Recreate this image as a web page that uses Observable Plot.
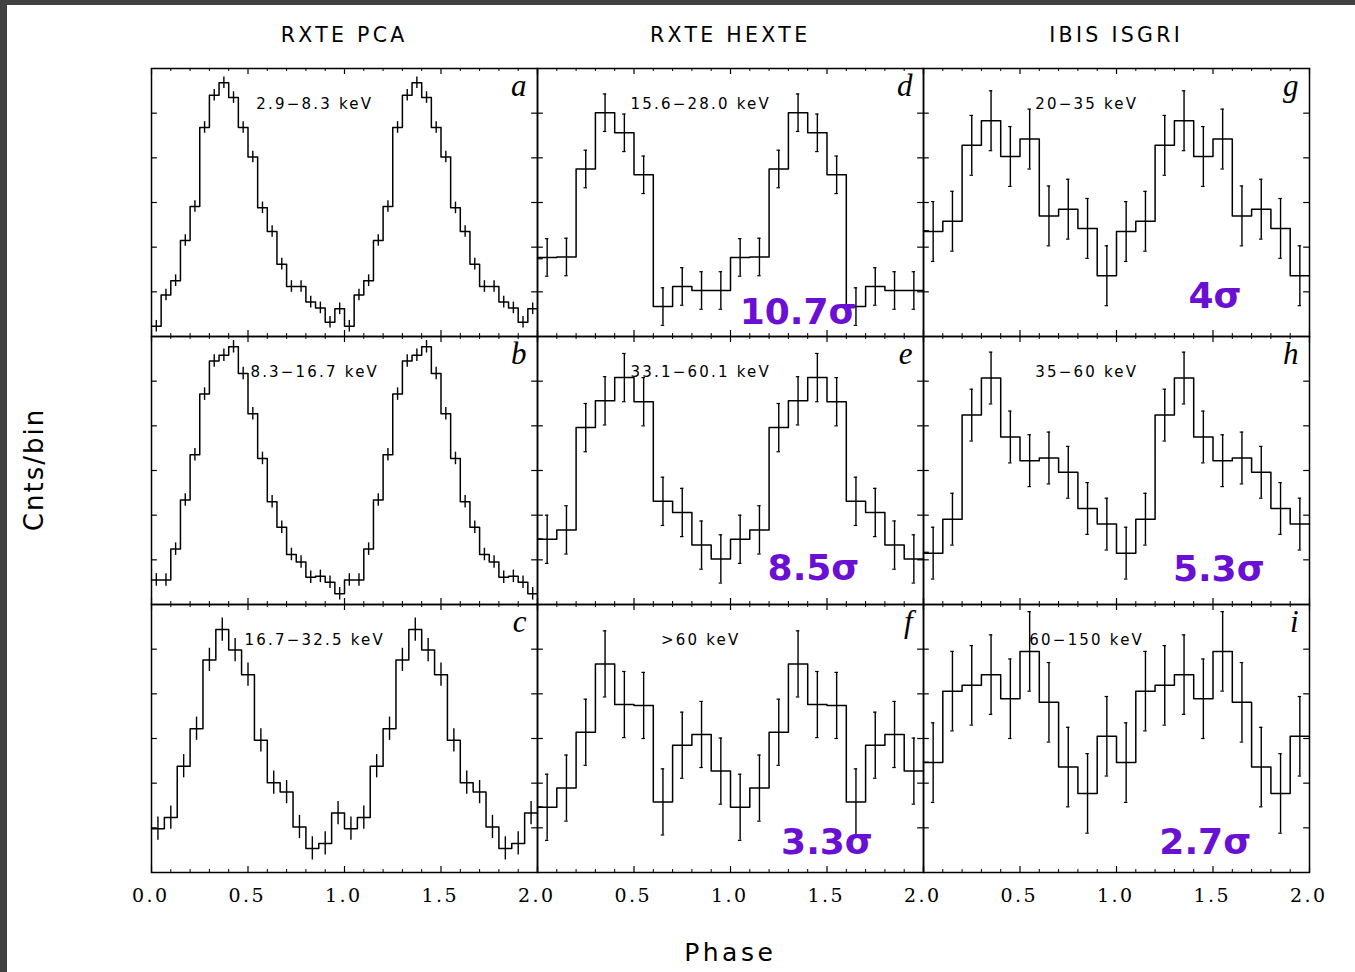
<!DOCTYPE html>
<html>
<head>
<meta charset="utf-8">
<script src="https://cdn.jsdelivr.net/npm/d3@7"></script>
<script src="https://cdn.jsdelivr.net/npm/@observablehq/plot@0.6"></script>
<style>
  html, body { margin: 0; padding: 0; background: #414141; }
  #frame { padding: 5px 0 0 7px; width: 1348px; height: 967px; }
  #chart svg { display: block; background: #fff; }
</style>
</head>
<body>
<div id="frame"><div id="chart"></div></div>
<script>
// Instruments (columns) and panel rows
const instruments = ["RXTE PCA", "RXTE HEXTE", "IBIS ISGRI"];
const rows = ["low", "mid", "high"];

// Panels a–i, column by column
const panelIds = ["a", "b", "c", "d", "e", "f", "g", "h", "i"];
const energyBands = [
  "2.9−8.3 keV", "8.3−16.7 keV", "16.7−32.5 keV",
  "15.6−28.0 keV", "33.1−60.1 keV", ">60 keV",
  "20−35 keV", "35−60 keV", "60−150 keV"
];
const significance = [null, null, null, "10.7σ", "8.5σ", "3.3σ", "4σ", "5.3σ", "2.7σ"];

// Pulse profiles over one cycle (counts per bin, arbitrary units)
const profileA = [0.23, 0.93, 1.25, 2.15, 2.91, 4.68, 5.40, 5.68, 5.35, 4.68,
                  4.02, 2.88, 2.35, 1.62, 1.12, 1.12, 0.77, 0.64, 0.32, 0.62];
const profileB = [0.55, 0.55, 1.24, 2.34, 3.35, 4.71, 5.45, 5.58, 5.77, 5.17,
                  4.27, 3.27, 2.30, 1.73, 1.12, 0.95, 0.61, 0.63, 0.50, 0.24];
const profileC = [0.98, 1.23, 2.38, 3.22, 4.76, 5.44, 4.98, 4.43, 2.96, 2.01,
                  1.80, 1.02, 0.54, 0.65, 1.33];
const profileD = [1.77, 1.78, 3.75, 5.01, 4.56, 3.62, 0.67, 1.12, 1.03, 1.03];
const profileE = [1.46, 1.67, 3.96, 4.56, 5.08, 4.54, 2.31, 2.06, 1.33, 1.02];
const profileF = [1.46, 1.89, 3.14, 4.67, 3.76, 3.74, 1.58, 2.85, 3.09, 2.27];
const profileG = [2.35, 2.58, 4.28, 4.83, 4.03, 4.42, 2.70, 2.85, 2.42, 1.36];
const profileH = [1.15, 1.91, 4.24, 5.07, 3.75, 3.22, 3.28, 2.96, 2.15, 1.80];
const profileI = [2.46, 4.06, 4.19, 4.43, 3.89, 4.95, 3.81, 2.36, 1.77, 3.05];

// 1-sigma error per bin for each panel
const binError = [0.13, 0.14, 0.26, 0.42, 0.54, 0.74, 0.67, 0.58, 0.89];

// Axis ticks
const phaseMajor = [0, 0.5, 1, 1.5, 2];
const phaseMinor = [0.1, 0.2, 0.3, 0.4, 0.6, 0.7, 0.8, 0.9, 1.1, 1.2, 1.3, 1.4, 1.6, 1.7, 1.8, 1.9];
const countTicks = [1, 2, 3, 4, 5];
const extraLeftTicks = [null, null, null, 1.74, 1.47, 1.47, 2.37, 1.17, 2.47];
const phaseLabelsFirst = ["0.0", "0.5", "1.0", "1.5", "2.0"];
const phaseLabelsRest = ["0.5", "1.0", "1.5", "2.0"];

const profiles = [profileA, profileB, profileC, profileD, profileE, profileF, profileG, profileH, profileI];

const panels = panelIds.map((id, i) => ({
  id,
  col: instruments[Math.floor(i / 3)],
  row: rows[i % 3],
  values: profiles[i],
  err: binError[i],
  band: energyBands[i],
  sig: significance[i],
  extra: extraLeftTicks[i]
}));

// Step outline and error bars, shown over two cycles
const steps = [], bars = [];
for (const p of panels) {
  const n = p.values.length, w = 1 / n;
  for (let cycle = 0; cycle < 2; cycle++) {
    p.values.forEach((v, k) => {
      const x0 = cycle + k * w, x1 = x0 + w;
      steps.push({col: p.col, row: p.row, x: x0, y: v});
      steps.push({col: p.col, row: p.row, x: x1, y: v});
      bars.push({col: p.col, row: p.row, x: x0 + w / 2, lo: v - p.err, hi: v + p.err,
                 capped: p.col !== instruments[0]});
    });
  }
}
const caps = bars.filter(d => d.capped).flatMap(d => [
  {col: d.col, row: d.row, x: d.x, y: d.lo},
  {col: d.col, row: d.row, x: d.x, y: d.hi}
]);

const tickLabels = instruments.flatMap((col, j) =>
  (j === 0 ? phaseLabelsFirst : phaseLabelsRest).map(label => ({col, row: rows[2], label, v: +label}))
);

// Placement of the significance annotations (phase, level of baseline)
const sigPlacement = {d: [1.35, 0.29], e: [1.43, 0.54], f: [1.50, 0.42],
                      g: [1.51, 0.63], h: [1.53, 0.52], i: [1.46, 0.42]};

const FW = 1160 / 3, FH = 804 / 3;
const ink = "#000";
const purple = "#6a0fd4";

const chart = Plot.plot({
  width: 1348,
  height: 967,
  marginLeft: 143,
  marginRight: 45,
  marginTop: 63,
  marginBottom: 100,
  x: {domain: [0, 2], axis: null},
  y: {domain: [0, 6], axis: null},
  fx: {domain: instruments, padding: 0, axis: null},
  fy: {domain: rows, padding: 0, axis: null},
  style: {background: "#fff", color: ink, fontFamily: "DejaVu Sans"},
  marks: [
    // inward ticks on all four sides of each panel
    Plot.tickX(phaseMinor, {x: d => d, insetTop: FH - 3, stroke: ink, strokeWidth: 1}),
    Plot.tickX(phaseMinor, {x: d => d, insetBottom: FH - 3, stroke: ink, strokeWidth: 1}),
    Plot.tickX(phaseMajor, {x: d => d, insetTop: FH - 6, stroke: ink, strokeWidth: 1.2}),
    Plot.tickX(phaseMajor, {x: d => d, insetBottom: FH - 6, stroke: ink, strokeWidth: 1.2}),
    Plot.tickY(countTicks, {y: d => d, insetRight: FW - 6.5, stroke: ink, strokeWidth: 1.2}),
    Plot.tickY(countTicks, {y: d => d, insetLeft: FW - 6.5, stroke: ink, strokeWidth: 1.2}),
    Plot.tickY(panels.filter(p => p.extra != null), {y: "extra", fx: "col", fy: "row",
      insetRight: FW - 6.5, stroke: ink, strokeWidth: 1.2}),
    Plot.frame({stroke: ink, strokeWidth: 1.5}),

    // pulse profiles
    Plot.line(steps, {x: "x", y: "y", fx: "col", fy: "row", stroke: ink, strokeWidth: 1.5}),
    Plot.ruleX(bars, {x: "x", y1: "lo", y2: "hi", fx: "col", fy: "row", stroke: ink, strokeWidth: 1.4}),
    Plot.ruleY(caps, {y: "y", x1: d => d.x - 0.009, x2: d => d.x + 0.009, fx: "col", fy: "row",
      stroke: ink, strokeWidth: 1.2}),

    // panel texts
    Plot.text(panels, {x: () => 0.84, y: () => 6, dy: 40.5, text: "band", fx: "col", fy: "row",
      lineAnchor: "bottom", fontSize: 15, fill: ink}),
    Plot.text(panels, {frameAnchor: "top-right", text: "id", fx: "col", fy: "row",
      dx: -11, dy: 27, textAnchor: "end", lineAnchor: "bottom",
      fontFamily: "Liberation Serif", fontStyle: "italic", fontSize: 31, fill: ink}),
    Plot.text(panels.filter(p => p.sig), {
      x: p => sigPlacement[p.id][0], y: p => sigPlacement[p.id][1], text: "sig",
      fx: "col", fy: "row", lineAnchor: "bottom", fontSize: 36, fontWeight: "bold",
      fontFamily: "DejaVu Sans", fill: purple}),

    // column titles
    Plot.text(instruments, {x: () => 1, y: () => 6, fx: d => d, fy: () => rows[0], dy: -27, dx: -2,
      lineAnchor: "bottom", fontSize: 20.5, fill: ink}),

    // phase tick labels along the bottom row
    Plot.text(tickLabels, {x: "v", y: () => 0, text: "label", fx: "col", fy: "row", dy: 29, dx: -2,
      lineAnchor: "bottom", fontFamily: "DejaVu Serif", fontSize: 19, fill: ink}),

    // axis titles
    Plot.text(["Phase"], {fx: () => instruments[1], fy: () => rows[2], frameAnchor: "bottom",
      dy: 88, dx: -2, lineAnchor: "bottom", fontSize: 25, fill: ink}),
    Plot.text(["Cnts/bin"], {fx: () => instruments[0], fy: () => rows[1], frameAnchor: "left",
      dx: -117, rotate: -90, textAnchor: "middle", lineAnchor: "middle", fontSize: 26, fill: ink})
  ]
});

// Widen the tracking of the plain labels, in the manner of the plotting package's stroke font
const spacing = new Map([
  ...instruments.map(t => [t, 3.3]),
  ...energyBands.map(t => [t, 2.2]),
  ...phaseLabelsFirst.map(t => [t, 2.5]),
  ["Phase", 3.5],
  ["Cnts/bin", 2]
]);
d3.select(chart).selectAll("text").each(function() {
  const s = spacing.get(this.textContent);
  if (s != null) {
    d3.select(this).style("letter-spacing", `${s}px`);
    // keep centred text centred despite the trailing gap
    if (getComputedStyle(this).textAnchor === "middle" || this.closest("[text-anchor=middle]")) {
      d3.select(this).attr("dx", `${s / 2}px`);
    }
  }
});

document.getElementById("chart").appendChild(chart);
</script>
